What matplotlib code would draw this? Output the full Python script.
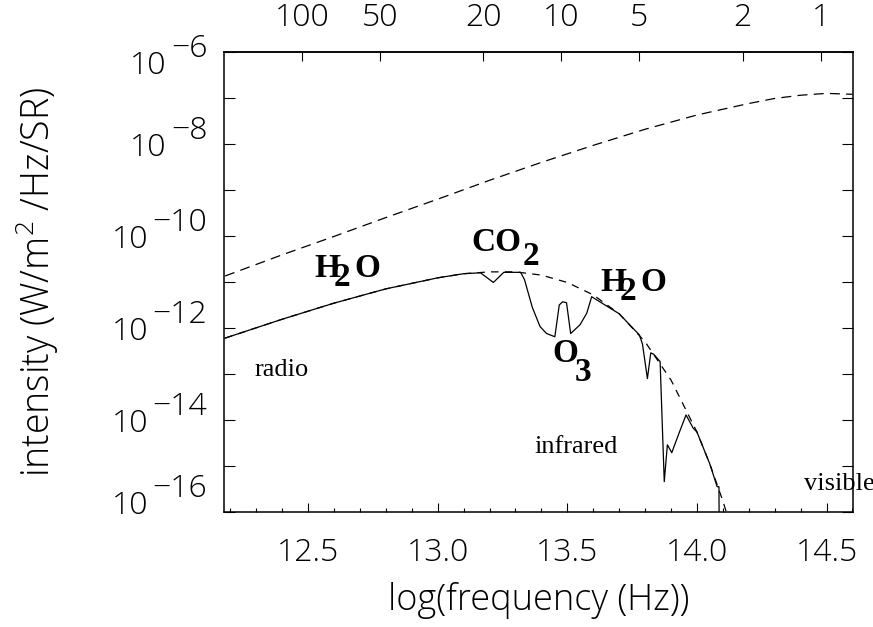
import matplotlib
matplotlib.use('Agg')
import matplotlib.pyplot as plt
import numpy as np
from matplotlib.ticker import FixedLocator, MultipleLocator, NullLocator, NullFormatter
from matplotlib.transforms import offset_copy

plt.rcParams['mathtext.default'] = 'regular'

# log10(frequency / Hz) and log10(intensity)
sun_logf = [12.18, 12.4, 12.6, 12.8, 13.0, 13.2, 13.4, 13.6, 13.8, 14.0, 14.2, 14.3, 14.4, 14.5, 14.6]
sun_logi = [-10.87, -10.41, -10.01, -9.60, -9.20, -8.79, -8.40, -8.03, -7.68, -7.37, -7.12, -7.01, -6.94, -6.90, -6.92]

earth_logf = [12.18, 12.4, 12.6, 12.8, 13.0, 13.1, 13.2, 13.3, 13.4, 13.5, 13.6, 13.7, 13.8,
              13.9, 14.0, 14.05, 14.1, 14.13]
earth_logi = [-12.22, -11.81, -11.46, -11.15, -10.91, -10.82, -10.78, -10.78, -10.85, -11.01, -11.28,
              -11.69, -12.30, -13.13, -14.26, -14.96, -15.76, -16.3]

atm_logf = [12.18, 12.4, 12.6, 12.8, 13.0, 13.1, 13.165, 13.215, 13.255, 13.32, 13.335, 13.365,
            13.395, 13.42, 13.452, 13.469, 13.482, 13.497, 13.513, 13.549, 13.575, 13.594,
            13.7, 13.778, 13.79, 13.809, 13.822, 13.833, 13.858, 13.874, 13.886, 13.903,
            13.93, 13.958, 13.986, 14.0, 14.05, 14.078, 14.085, 14.086]
atm_logi = [-12.22, -11.81, -11.46, -11.15, -10.91, -10.82, -10.80, -11.01, -10.79, -10.79, -10.95, -11.55,
            -11.97, -12.12, -12.19, -11.50, -11.43, -11.45, -12.12, -11.93, -11.68, -11.32,
            -11.69, -12.15, -12.35, -13.10, -12.54, -12.57, -12.73, -15.34, -14.54, -14.71,
            -14.30, -13.89, -14.18, -14.26, -14.96, -15.45, -15.45, -16.6]

wavelengths = [100, 50, 20, 10, 5, 2, 1]       # microns, top axis
freq_ticks = [12.5, 13.0, 13.5, 14.0, 14.5]
exp_labels = [-6, -8, -10, -12, -14, -16]

# molecule labels: main part, subscript, tail, log f, log I
molecules = [
    ('H', '2', 'O', 12.523, -10.89),
    ('CO', '2', '', 13.129, -10.33),
    ('H', '2', 'O', 13.626, -11.19),
    ('O', '3', '', 13.444, -12.75),
]
regions = [('radio', 12.292, -13.05), ('infrared', 13.375, -14.72), ('visible', 14.413, -15.52)]

tick_font = dict(family='Open Sans', weight='light', size=23)
title_font = dict(family='Open Sans', weight='light', size=26)
chem_font = dict(family='Liberation Serif', weight='bold', size=24)
reg_font = dict(family='Liberation Serif', size=19)

fig = plt.figure(figsize=(8.73, 6.27), dpi=100)
ax = fig.add_axes([0.2566, 0.1834, 0.7205, 0.7337])

ax.plot(sun_logf, 10.0**np.array(sun_logi), color='k', lw=0.9, dashes=(8, 5))
ax.plot(earth_logf, 10.0**np.array(earth_logi), color='k', lw=0.9, dashes=(6, 5))
ax.plot(atm_logf, 10.0**np.array(atm_logi), color='k', lw=0.9)

ax.set_yscale('log')
ax.set_xlim(12.176, 14.602)
ax.set_ylim(1e-16, 1e-6)

# bottom axis
ax.xaxis.set_major_locator(FixedLocator(freq_ticks))
ax.xaxis.set_minor_locator(MultipleLocator(0.1))
ax.set_xticklabels(['%.1f' % v for v in freq_ticks], **tick_font)
ax.tick_params(axis='x', which='major', direction='in', length=6.5, width=0.8, top=False, pad=18)
ax.tick_params(axis='x', which='minor', direction='in', length=3, width=0.8, top=False)
ax.set_xlabel('log(frequency (Hz))', labelpad=9, **title_font)

# left/right axis: a tick every decade, labels drawn by hand
ax.yaxis.set_major_locator(FixedLocator(10.0**np.arange(-16, -5)))
ax.yaxis.set_minor_locator(NullLocator())
ax.yaxis.set_major_formatter(NullFormatter())
ax.tick_params(axis='y', which='major', direction='in', length=8, width=0.8, left=True, right=True)

ytrans = ax.get_yaxis_transform()
for e in exp_labels:
    shift = -7 if e == -6 else (7 if e == -16 else 0)
    t = ax.text(0, 10.0**e, '\u2212%d' % -e, ha='right', va='baseline',
                transform=offset_copy(ytrans, fig=fig, x=-12, y=3.5 + shift, units='points'), **tick_font)
    ax.annotate('10', xy=(0, 10.0**e), xycoords=(t, ytrans), xytext=(-3, -8.5 + shift),
                textcoords='offset points', ha='right', va='baseline', **tick_font)

fig.text(0.043, 0.55, 'intensity (W/m$^2$ /Hz/SR)', rotation=90, ha='center', va='center',
         family='Open Sans', weight='light', size=27)

# top axis in wavelength (microns)
sec = ax.secondary_xaxis('top', functions=(lambda x: 3e14 / 10.0**x,
                                           lambda lam: np.log10(3e14 / np.clip(lam, 1e-9, None))))
sec.xaxis.set_major_locator(FixedLocator(wavelengths))
sec.xaxis.set_minor_locator(NullLocator())
sec.set_xticklabels([str(w) for w in wavelengths], **tick_font)
sec.tick_params(axis='x', direction='in', length=6.5, width=0.8, pad=13)

for sp in list(ax.spines.values()) + list(sec.spines.values()):
    sp.set_linewidth(1.1)

for main, sub, tail, lf, li in molecules:
    ax.text(lf, 10.0**li, main, ha='left', va='baseline', **chem_font)
    dx_sub = 20 if main == 'H' else (52 if main == 'CO' else 22)
    dy_sub = -9 if main == 'H' else (-14 if main == 'CO' else -19)
    ax.text(lf, 10.0**li, sub, ha='left', va='baseline',
            transform=offset_copy(ax.transData, fig=fig, x=dx_sub, y=dy_sub, units='dots'), **chem_font)
    if tail:
        ax.text(lf, 10.0**li, tail, ha='left', va='baseline',
                transform=offset_copy(ax.transData, fig=fig, x=40, y=0, units='dots'), **chem_font)

for s, lf, li in regions:
    ax.text(lf, 10.0**li, s, ha='left', va='baseline', **reg_font)

fig.savefig('out.png', dpi=100)
